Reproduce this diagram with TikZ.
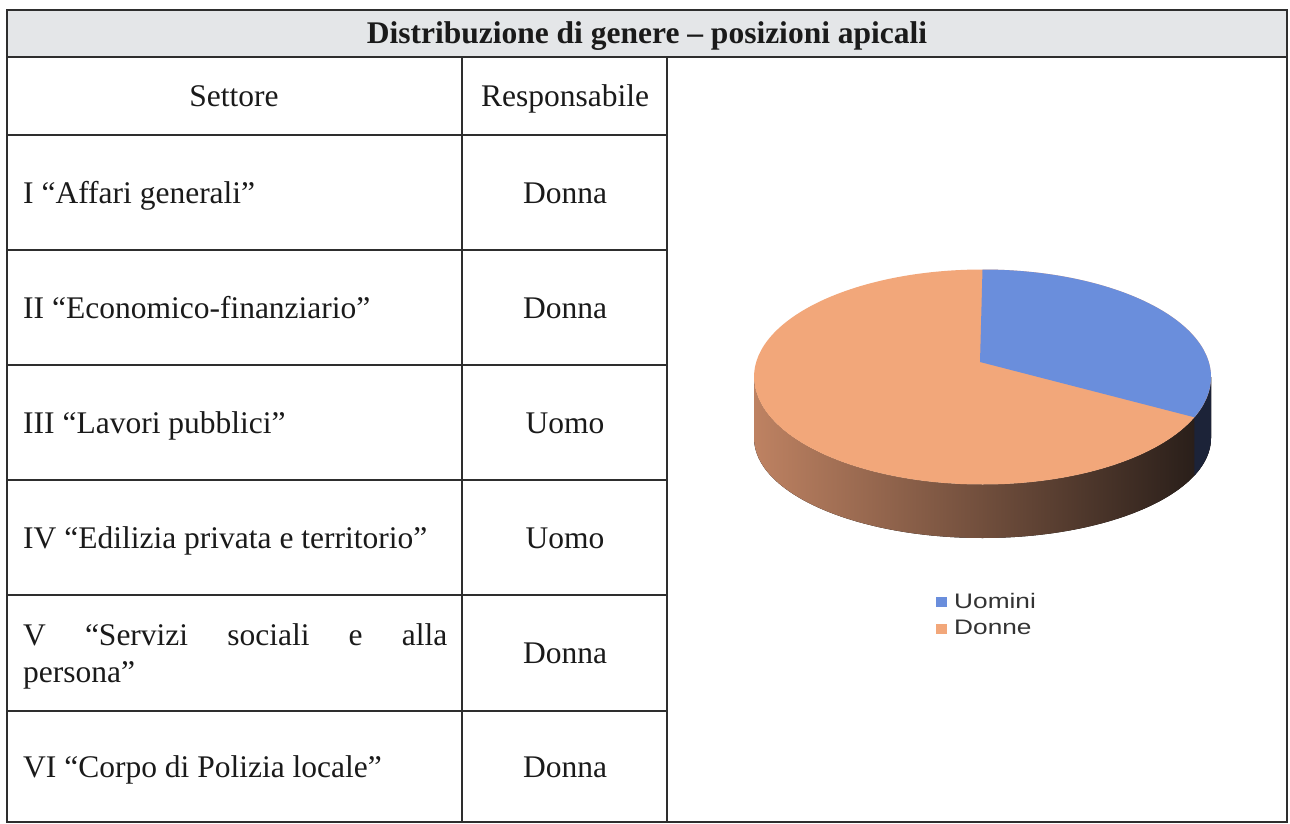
\documentclass[tikz,border=0pt]{standalone}
\usepackage{fontspec}
\setmainfont{Liberation Serif}
\newfontfamily\legendfont{Liberation Sans}[FakeStretch=1.25]
\usetikzlibrary{calc}
\definecolor{rule}{HTML}{2E2E2E}
\definecolor{headfill}{HTML}{E4E6E8}
\definecolor{pieorange}{HTML}{F2A77A}
\definecolor{pieblue}{HTML}{6A8EDC}
\definecolor{sidelight}{HTML}{BE8262}
\definecolor{sidemid}{HTML}{7E5440}
\definecolor{sidedark}{HTML}{241B17}
\definecolor{bluedark}{HTML}{1C2338}
\definecolor{legtext}{HTML}{333333}
\definecolor{bodytext}{HTML}{1A1A1A}
\tikzset{
  grid/.style={draw=rule, line width=1.6pt},
  cell/.style={inner sep=0pt, anchor=base, text=bodytext, font=\fontsize{31.5}{37}\selectfont},
  lcell/.style={cell, anchor=base west},
  title/.style={inner sep=0pt, anchor=base, text=bodytext, font=\fontsize{31.5}{37}\selectfont\bfseries},
  legend/.style={inner sep=0pt, anchor=base west, text=legtext, font=\legendfont\fontsize{21}{25}\selectfont},
}
\begin{document}
\begin{tikzpicture}[x=1pt,y=1pt]
\useasboundingbox (0,0) rectangle (1290,-824);
\fill[white] (0,0) rectangle (1290,-824);
% header
\fill[headfill] (7,-10) rectangle (1287,-57);
% pie chart
\fill[left color=sidelight, middle color=sidemid, right color=sidedark]
  (754,-377) -- (754,-438) arc[start angle=180,end angle=360,x radius=228.5,y radius=100]
  -- (1211,-377) arc[start angle=0,end angle=-180,x radius=228.5,y radius=107.5] -- cycle;
\fill[bluedark] ($(982.5,-377)+(-22:228.5 and 107.5)$)
  arc[start angle=-22,end angle=0,x radius=228.5,y radius=107.5]
  -- ++(0,-61) arc[start angle=0,end angle=-22,x radius=228.5,y radius=100] -- cycle;
\fill[pieorange] (982.5,-377) ellipse[x radius=228.5,y radius=107.5];
\fill[pieblue] (980,-362) -- (982.5,-269.5)
  arc[start angle=90,end angle=-22,x radius=228.5,y radius=107.5] -- cycle;
% legend
\fill[pieblue] (936,-597) rectangle (947,-607);
\fill[pieorange] (936,-624) rectangle (947,-634);
\node[legend] (lu) at (954,-608.5) {Uomini};
\node[legend] (ld) at (954,-634) {Donne};
% grid
\draw[grid] (7,-10) rectangle (1287,-822);
\draw[grid] (7,-57) -- (1287,-57);
\draw[grid] (462,-57) -- (462,-822);
\draw[grid] (667,-57) -- (667,-822);
\foreach \yy in {135,250,365,480,595,711}{
  \draw[grid] (7,-\yy) -- (667,-\yy);
}
% texts
\node[title] (t) at (647,-44) {Distribuzione di genere – posizioni apicali};
\node[cell] (h1) at (234,-107) {Settore};
\node[cell] (h2) at (565,-107) {Responsabile};
\node[lcell] (s1) at (23,-203) {I “Affari generali”};
\node[lcell] (s2) at (23,-318) {II “Economico-finanziario”};
\node[lcell] (s3) at (23,-433) {III “Lavori pubblici”};
\node[lcell] (s4) at (23,-548) {IV “Edilizia privata e territorio”};
\node[lcell] (s5a) at (23,-645) {\makebox[424pt][s]{V “Servizi sociali e alla}};
\node[lcell] (s5b) at (23,-682) {persona”};
\node[lcell] (s6) at (23,-777) {VI “Corpo di Polizia locale”};
\node[cell] (r1) at (565,-203) {Donna};
\node[cell] (r2) at (565,-318) {Donna};
\node[cell] (r3) at (565,-433) {Uomo};
\node[cell] (r4) at (565,-548) {Uomo};
\node[cell] (r5) at (565,-663) {Donna};
\node[cell] (r6) at (565,-777) {Donna};
\end{tikzpicture}
\end{document}
